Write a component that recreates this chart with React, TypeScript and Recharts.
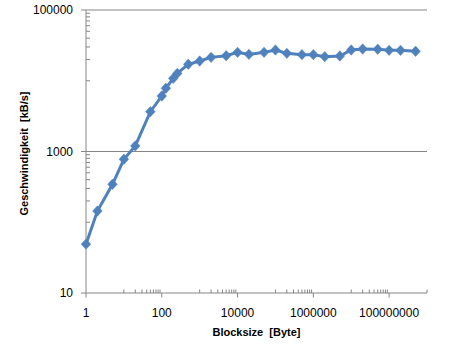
import React from 'react';
import { LineChart, Line, XAxis, YAxis, ReferenceLine } from 'recharts';

const blockSizes = [
  1, 2, 5, 10, 20, 50, 100, 128, 200, 256, 500, 1000, 2000, 5000, 10000, 20000, 50000,
  100000, 200000, 500000, 1000000, 2000000, 5000000, 10000000, 20000000, 50000000,
  100000000, 200000000, 500000000,
];
const speeds = [
  49, 144, 344, 776, 1200, 3660, 6080, 7820, 10800, 12700, 17100, 19000, 21400, 22600,
  25200, 23600, 25200, 27200, 24400, 23400, 23400, 21900, 22400, 27200, 28100, 27900,
  26900, 26900, 26100,
];
const xMajorTicks = [1, 100, 10000, 1000000, 100000000];
const yMajorTicks = [10, 1000, 100000];
const yGridValues = [1000, 100000];

const multiples = [1, 2, 3, 4, 5, 6, 7, 8, 9];
const xMinorTicks = [10, 1000, 100000, 10000000]
  .flatMap((b) => multiples.map((k) => k * b))
  .concat([1000000000]);
const yMinorTicks = [100, 10000].flatMap((b) => multiples.map((k) => k * b));

const data = blockSizes.map((b, i) => ({ size: b, speed: speeds[i] }));

const AXIS = '#868686';
const BLUE = '#4F81BD';
const FONT = '"Liberation Sans", Arial, sans-serif';

const XTick = (props: any) => {
  const { x, y, payload } = props;
  const v = payload.value;
  const major = xMajorTicks.includes(v);
  return (
    <g>
      <line x1={x} x2={x} y1={y} y2={major ? y + 4.5 : y - 3.5} stroke={AXIS} strokeWidth={1} />
      {major && (
        <text x={x} y={y + 15} dy="0.71em" textAnchor="middle" fill="#000" fontSize={12} fontFamily={FONT}>
          {String(v)}
        </text>
      )}
    </g>
  );
};

const YTick = (props: any) => {
  const { x, y, payload } = props;
  const v = payload.value;
  const major = yMajorTicks.includes(v);
  return (
    <g>
      <line x1={major ? x - 5 : x} x2={major ? x : x + 4} y1={y} y2={y} stroke={AXIS} strokeWidth={1} />
      {major && (
        <text x={x - 13} y={y} dy="0.355em" textAnchor="end" fill="#000" fontSize={12} fontFamily={FONT}>
          {String(v)}
        </text>
      )}
    </g>
  );
};

const Diamond = (props: any) => {
  const { cx, cy, index } = props;
  if (cx == null || cy == null) return <g key={index} />;
  const w = 4.8;
  const h = 5.2;
  return (
    <path
      key={index}
      d={`M${cx},${cy - h} L${cx + w},${cy} L${cx},${cy + h} L${cx - w},${cy} Z`}
      fill={BLUE}
      stroke={BLUE}
      strokeWidth={0.5}
    />
  );
};

const YTitle = (props: any) => {
  const vb = props.viewBox || { x: 0, y: 10, width: 86, height: 283 };
  const cx = vb.x + 28;
  const cy = vb.y + vb.height / 2 + 2;
  return (
    <text
      x={cx}
      y={cy}
      transform={`rotate(-90 ${cx} ${cy})`}
      textAnchor="middle"
      fill="#000"
      fontSize={11}
      fontWeight="bold"
      fontFamily={FONT}
    >
      {'Geschwindigkeit\u00a0 [kB/s]'}
    </text>
  );
};

export default function App() {
  return (
    <div style={{ position: 'absolute', left: 0, top: 0, width: 468, height: 352, background: '#fff' }}>
      <LineChart width={468} height={352} data={data} margin={{ top: 10, right: 41, left: 0, bottom: 0 }}>
        <XAxis
          dataKey="size"
          type="number"
          scale="log"
          domain={[1, 1000000000]}
          ticks={[...xMajorTicks, ...xMinorTicks]}
          interval={0}
          tick={<XTick />}
          tickLine={false}
          tickSize={0}
          tickMargin={0}
          axisLine={{ stroke: AXIS }}
          height={59}
          label={{
            value: 'Blocksize\u00a0 [Byte]',
            position: 'insideBottom',
            offset: 16,
            fill: '#000',
            fontSize: 11,
            fontWeight: 'bold',
            fontFamily: FONT,
          }}
        />
        <YAxis
          dataKey="speed"
          type="number"
          scale="log"
          domain={[10, 100000]}
          ticks={[...yMajorTicks, ...yMinorTicks]}
          interval={0}
          tick={<YTick />}
          tickLine={false}
          tickSize={0}
          tickMargin={0}
          axisLine={{ stroke: AXIS }}
          width={86}
          label={{ content: <YTitle /> }}
        />
        {yGridValues.map((v) => (
          <ReferenceLine key={v} y={v} stroke={AXIS} strokeWidth={1} />
        ))}
        <Line
          dataKey="speed"
          type="linear"
          stroke={BLUE}
          strokeWidth={3}
          dot={<Diamond />}
          activeDot={false}
          isAnimationActive={false}
        />
      </LineChart>
    </div>
  );
}
